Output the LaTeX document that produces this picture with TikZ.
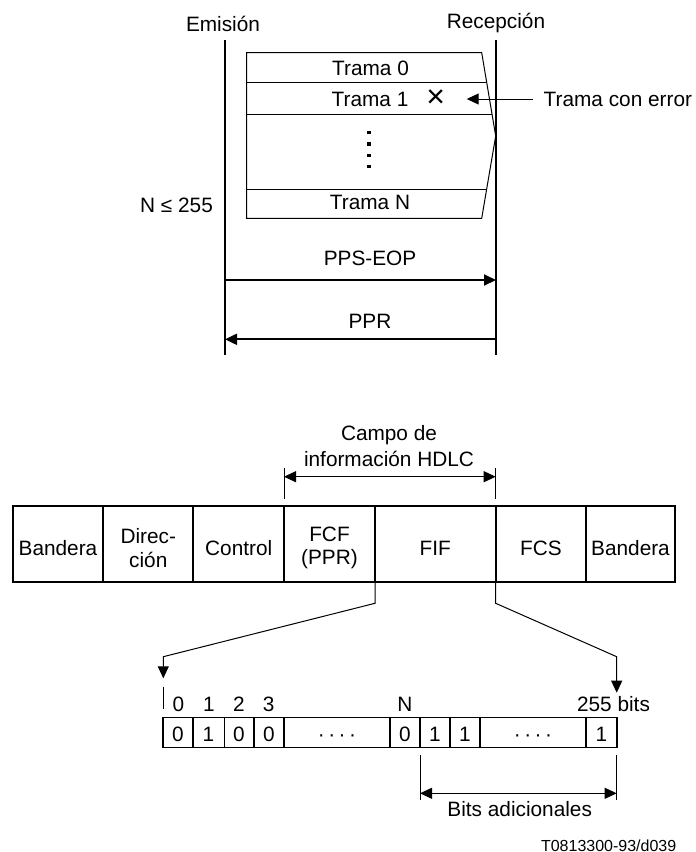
\documentclass[tikz,border=0pt]{standalone}
\usepackage{fontspec}
\setmainfont{Liberation Sans}
\usetikzlibrary{arrows.meta,positioning}

\begin{document}
\begin{tikzpicture}[x=0.5pt, y=-0.5pt, font=\fontsize{10.4pt}{12.5pt}\selectfont,
  >={Triangle[length=6pt,width=5.5pt]}, every node/.style={align=center, inner sep=0pt},
  heavy/.style={line width=1pt}, light/.style={line width=0.5pt}, frame/.style={line width=0.8pt}]
  \useasboundingbox (0,0) rectangle (696,852);

  % stations
  \node[anchor=base] (Emis) at (223,31.7) {Emisión};
  \node[anchor=base] (Recep) at (496,28.3) {Recepción};
  \coordinate (Etop) at (225,40);
  \coordinate (Ebot) at (225,355);
  \coordinate (Rtop) at (496,40);
  \coordinate (Rbot) at (496,355);
  \draw[heavy] (Etop) -- (Ebot);
  \draw[heavy] (Rtop) -- (Rbot);

  % block of frames
  \draw[light] (481.7,52.7) -- (246.7,52.7) -- (246.7,218.3) -- (481.7,218.3) -- (495.7,136) -- cycle;
  \draw[light] (246.7,82.7) -- (486.7,82.7);
  \draw[light] (246.7,114) -- (492,114);
  \draw[light] (246.7,189.3) -- (486.6,189.3);
  \node[anchor=base] (T0) at (370.5,75) {Trama 0};
  \node[anchor=base] (T1) at (370,106) {Trama 1};
  \node (Terr) at (435.7,99) {\fontsize{16pt}{16pt}\selectfont ×};
  \node[anchor=base] (TN) at (370,209) {Trama N};
  \foreach \y in {132.7,144,155.3,166.7}
    \fill (367.4,{\y-1.6}) rectangle (370.6,{\y+1.6});
  \node[anchor=base east] (Nmax) at (213.3,212) {N ≤ 255};
  \node[anchor=base west] (Elab) at (543.3,106) {Trama con error};
  \coordinate (Efrom) at (533.3,99);
  \coordinate (Eto) at (466.7,99);
  \draw[light, ->] (Efrom) -- (Eto);

  % messages
  \node[anchor=base] (PPS) at (370,265) {PPS-EOP};
  \coordinate (PPSa) at (225,280);
  \coordinate (PPSb) at (496,280);
  \draw[heavy, ->] (PPSa) -- (PPSb);
  \node[anchor=base] (PPR) at (370,328) {PPR};
  \coordinate (PPRa) at (496,339.3);
  \coordinate (PPRb) at (225,339.3);
  \draw[heavy, ->] (PPRa) -- (PPRb);

  % HDLC frame
  \node[font=\fontsize{10.4pt}{13pt}\selectfont] (Campo) at (389,446.2) {Campo de\\información HDLC};
  \coordinate (CampoL) at (284,476.7);
  \coordinate (CampoR) at (495.7,476.7);
  \draw[light] (284,468.3) -- (284,499);
  \draw[light] (495.7,468.3) -- (495.7,499);
  \draw[light, <->] (CampoL) -- (CampoR);

  \draw[frame] (12.7,506) rectangle (675,581.7);
  \foreach \x in {103.3,193.3,284,375,495.7,586}
    \draw[heavy] (\x,506) -- (\x,581.7);
  \node (Band1) at (58,548) {Bandera};
  \node[font=\fontsize{10.4pt}{11.7pt}\selectfont] (Dir) at (148.3,548) {Direc-\\ción};
  \node (Ctrl) at (238.7,548) {Control};
  \node[font=\fontsize{10.4pt}{11.7pt}\selectfont] (FCF) at (329.5,548) {FCF\\(PPR)};
  \node (FIF) at (435.3,548) {FIF};
  \node (FCS) at (540.9,548) {FCS};
  \node (Band2) at (630.5,548) {Bandera};

  % expansion of FCF
  \coordinate (FIFl) at (375,581.7);
  \coordinate (FIFr) at (495.7,581.7);
  \coordinate (Lk) at (375,603.3);
  \coordinate (Lb) at (163.3,656.7);
  \coordinate (Lt) at (163.3,678.3);
  \coordinate (Rk) at (495.7,603.3);
  \coordinate (Rb) at (616.7,656.7);
  \coordinate (Rt) at (616.7,692.7);
  \draw[light, ->] (FIFl) -- (Lk) -- (Lb) -- (Lt);
  \draw[light, ->] (FIFr) -- (Rk) -- (Rb) -- (Rt);
  \draw[light] (163.3,686.7) -- (163.3,709.3);

  % bit positions
  \foreach \x/\t in {178.3/0, 209/1, 239/2, 268.7/3, 405/N}
    \node[anchor=base] at (\x,711) {\t};
  \node[anchor=base west] (Bmax) at (576.7,711) {255 bits};

  % bits
  \draw[frame] (162.7,717.3) rectangle (616.7,747.3);
  \foreach \x in {192.7,224.3,254,284,390,420,450,480,586}
    \draw[frame] (\x,717.3) -- (\x,747.3);
  \foreach \x/\t in {178/0, 208.5/1, 239/0, 269/0, 405/0, 435/1, 465/1, 601.3/1}
    \node[anchor=base] at (\x,741.7) {\t};
  \node[anchor=base] (dots1) at (337,741.7) {·\,·\,·\,·};
  \node[anchor=base] (dots2) at (533,741.7) {·\,·\,·\,·};

  % additional bits
  \coordinate (AddL) at (420,793.3);
  \coordinate (AddR) at (616.7,793.3);
  \draw[light] (420,755) -- (420,800);
  \draw[light] (616.7,755) -- (616.7,800);
  \draw[light, <->] (AddL) -- (AddR);
  \node[anchor=base] (Add) at (519.7,816.5) {Bits adicionales};

  % reference
  \node[anchor=base east, font=\fontsize{8pt}{9pt}\selectfont] (Ref) at (676.7,851.3) {T0813300-93/d039};
\end{tikzpicture}
\end{document}
